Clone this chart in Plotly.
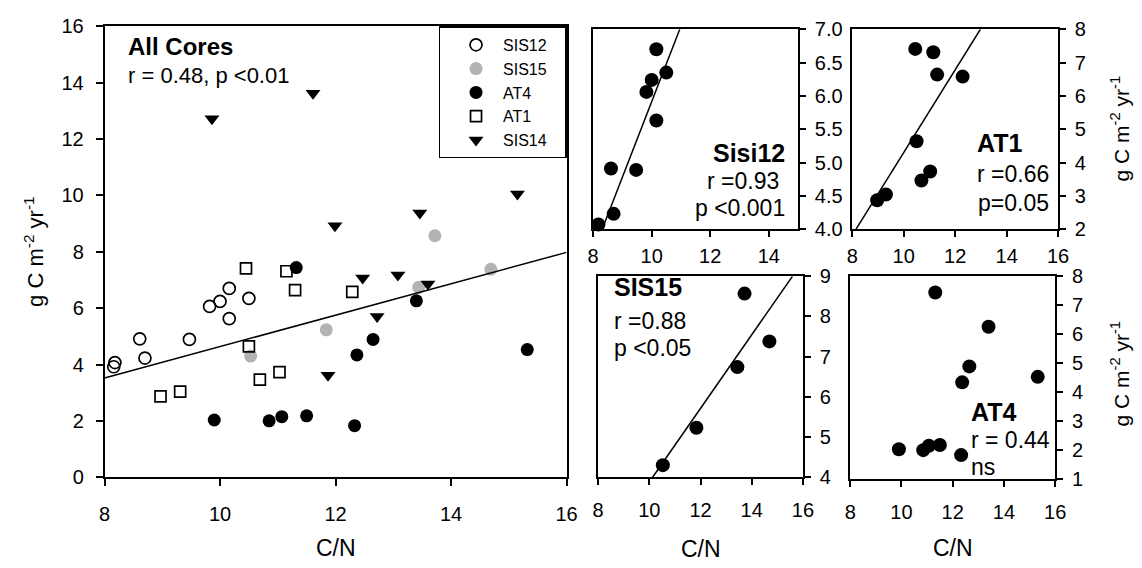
import plotly.graph_objects as go

# ---------------- data ----------------
sis12_cn = [8.16, 8.18, 8.61, 8.70, 9.47, 9.82, 10.00, 10.16, 10.16, 10.50]
sis12_c = [3.92, 4.07, 4.91, 4.23, 4.89, 6.06, 6.24, 6.70, 5.63, 6.35]

sis15_cn = [10.53, 11.84, 13.44, 13.72, 14.69]
sis15_c = [4.30, 5.23, 6.74, 8.57, 7.38]

at4_cn = [9.90, 10.85, 11.07, 11.32, 11.50, 12.33, 12.37, 12.65, 13.40, 15.32]
at4_c = [2.03, 2.00, 2.15, 7.44, 2.18, 1.83, 4.34, 4.89, 6.26, 4.53]

at1_cn = [8.97, 9.31, 10.45, 10.50, 10.69, 11.03, 11.15, 11.30, 12.29]
at1_c = [2.87, 3.04, 7.41, 4.64, 3.46, 3.73, 7.31, 6.64, 6.58]

sis14_cn = [9.86, 11.61, 11.87, 11.99, 12.47, 12.72, 13.08, 13.46, 13.60, 15.15]
sis14_c = [12.72, 13.63, 3.62, 8.92, 7.07, 5.70, 7.18, 9.38, 6.86, 10.05]

# regression lines (end points)
all_fit_cn = [8.0, 16.0]
all_fit_c = [3.52, 7.98]
sis12_fit_cn = [8.31, 10.96]
sis12_fit_c = [4.0, 7.0]
at1_fit_cn = [8.15, 12.98]
at1_fit_c = [2.0, 8.0]
sis15_fit_cn = [10.13, 15.59]
sis15_fit_c = [4.0, 9.0]

# ---------------- layout helpers ----------------
W, H = 1142, 568
FONT = "Liberation Sans, Arial, sans-serif"
BLACK = "#000000"
GRAY = "#b3b3b3"
YTITLE = "g C m<sup>-2</sup> yr<sup>-1</sup>"
PAD = "\u00a0\u00a0\u00a0"


def dom_x(a, b):
    return [a / W, b / W]


def dom_y(top, bottom):
    return [1 - bottom / H, 1 - top / H]


fig = go.Figure()

# ---- main panel traces ----
fig.add_trace(go.Scatter(x=sis12_cn, y=sis12_c, mode="markers", name="SIS12" + PAD,
                         marker=dict(symbol="circle-open", size=12, color=BLACK,
                                     line=dict(width=1.7, color=BLACK)),
                         xaxis="x", yaxis="y"))
fig.add_trace(go.Scatter(x=sis15_cn, y=sis15_c, mode="markers", name="SIS15" + PAD,
                         marker=dict(symbol="circle", size=13, color=GRAY),
                         xaxis="x", yaxis="y"))
fig.add_trace(go.Scatter(x=at4_cn, y=at4_c, mode="markers", name="AT4" + PAD,
                         marker=dict(symbol="circle", size=13, color=BLACK),
                         xaxis="x", yaxis="y"))
fig.add_trace(go.Scatter(x=at1_cn, y=at1_c, mode="markers", name="AT1" + PAD,
                         marker=dict(symbol="square-open", size=11, color=BLACK,
                                     line=dict(width=1.7, color=BLACK)),
                         xaxis="x", yaxis="y"))
fig.add_trace(go.Scatter(x=sis14_cn, y=sis14_c, mode="markers", name="SIS14" + PAD,
                         marker=dict(symbol="triangle-down", size=13, color=BLACK),
                         xaxis="x", yaxis="y"))
fig.add_trace(go.Scatter(x=all_fit_cn, y=all_fit_c, mode="lines", showlegend=False,
                         line=dict(color=BLACK, width=1.5), xaxis="x", yaxis="y"))

# ---- sub panels ----
sub = [
    ("x2", "y2", sis12_cn, sis12_c, sis12_fit_cn, sis12_fit_c),
    ("x3", "y3", at1_cn, at1_c, at1_fit_cn, at1_fit_c),
    ("x4", "y4", sis15_cn, sis15_c, sis15_fit_cn, sis15_fit_c),
    ("x5", "y5", at4_cn, at4_c, None, None),
]
for xa, ya, xs, ys, fx, fy in sub:
    if fx is not None:
        fig.add_trace(go.Scatter(x=fx, y=fy, mode="lines", showlegend=False,
                                 line=dict(color=BLACK, width=1.5), xaxis=xa, yaxis=ya))
    fig.add_trace(go.Scatter(x=xs, y=ys, mode="markers", showlegend=False, cliponaxis=False,
                             marker=dict(symbol="circle", size=14, color=BLACK),
                             xaxis=xa, yaxis=ya))

axis_common = dict(showline=True, linecolor=BLACK, linewidth=1.5, mirror=True,
                   ticks="outside", ticklen=7, tickwidth=1.5, tickcolor=BLACK,
                   showgrid=False, zeroline=False, fixedrange=True,
                   tickfont=dict(family=FONT, size=20, color=BLACK))

layout = dict(
    width=W, height=H, margin=dict(l=0, r=0, t=0, b=0),
    paper_bgcolor="white", plot_bgcolor="white",
    font=dict(family=FONT, color=BLACK),
    xaxis=dict(axis_common, domain=dom_x(100, 569), range=[8, 16], tickvals=[8, 10, 12, 14, 16],
               anchor="y", ticklabelstandoff=11),
    yaxis=dict(axis_common, domain=dom_y(16, 485), range=[0, 16], tickvals=list(range(0, 17, 2)),
               anchor="x", ticklabelstandoff=8),
    xaxis2=dict(axis_common, domain=dom_x(596, 804), range=[8, 15], tickvals=[8, 10, 12, 14],
                anchor="y2", ticklen=6, ticklabelstandoff=2),
    yaxis2=dict(axis_common, domain=dom_y(19, 227), range=[4, 7],
                tickvals=[4.0, 4.5, 5.0, 5.5, 6.0, 6.5, 7.0],
                ticktext=["4.0", "4.5", "5.0", "5.5", "6.0", "6.5", "7.0"],
                side="right", anchor="x2", ticklen=6, ticklabelstandoff=5),
    xaxis3=dict(axis_common, domain=dom_x(859, 1068), range=[8, 16], tickvals=[8, 10, 12, 14, 16],
                anchor="y3", ticklen=6, ticklabelstandoff=2),
    yaxis3=dict(axis_common, domain=dom_y(19, 227), range=[2, 8], tickvals=list(range(2, 9)),
                side="right", anchor="x3", ticklen=6, ticklabelstandoff=5),
    xaxis4=dict(axis_common, domain=dom_x(601, 809), range=[8, 16], tickvals=[8, 10, 12, 14, 16],
                anchor="y4", ticklen=6, ticklabelstandoff=8),
    yaxis4=dict(axis_common, domain=dom_y(276, 485), range=[4, 9], tickvals=list(range(4, 10)),
                side="right", anchor="x4", ticklen=6, ticklabelstandoff=5),
    xaxis5=dict(axis_common, domain=dom_x(857, 1065), range=[8, 16], tickvals=[8, 10, 12, 14, 16],
                anchor="y5", ticklen=6, ticklabelstandoff=8),
    yaxis5=dict(axis_common, domain=dom_y(276, 487), range=[1, 8], tickvals=list(range(1, 9)),
                side="right", anchor="x5", ticklen=6, ticklabelstandoff=5),
    showlegend=True,
    legend=dict(x=569 / W, xanchor="right", y=1 - 16 / H, yanchor="top",
                bgcolor="white", bordercolor=BLACK, borderwidth=1.5,
                font=dict(family=FONT, size=16, color=BLACK),
                tracegroupgap=0, indentation=9, itemwidth=44),
)
fig.update_layout(**layout)


def ann(text, x, y, xref, yref, size, bold=False, xanchor="left", yanchor="middle", angle=0):
    if bold:
        text = "<b>" + text + "</b>"
    fig.add_annotation(text=text, x=x, y=y, xref=xref, yref=yref, showarrow=False,
                       xanchor=xanchor, yanchor=yanchor, textangle=angle,
                       font=dict(family=FONT, size=size, color=BLACK))


# main panel texts
ann("All Cores", 0.047, 0.955, "x domain", "y domain", 24, bold=True)
ann("r = 0.48, p <0.01", 0.047, 0.892, "x domain", "y domain", 22)
# Sisi12
ann("Sisi12", 0.945, 0.38, "x2 domain", "y2 domain", 25, bold=True, xanchor="right")
ann("r =0.93", 0.915, 0.24, "x2 domain", "y2 domain", 23, xanchor="right")
ann("p <0.001", 0.945, 0.105, "x2 domain", "y2 domain", 23, xanchor="right")
# AT1
ann("AT1", 0.598, 0.43, "x3 domain", "y3 domain", 25, bold=True)
ann("r =0.66", 0.598, 0.275, "x3 domain", "y3 domain", 23)
ann("p=0.05", 0.6, 0.13, "x3 domain", "y3 domain", 23)
# SIS15
ann("SIS15", 0.066, 0.945, "x4 domain", "y4 domain", 25, bold=True)
ann("r =0.88", 0.066, 0.78, "x4 domain", "y4 domain", 23)
ann("p <0.05", 0.066, 0.645, "x4 domain", "y4 domain", 23)
# AT4
ann("AT4", 0.579, 0.33, "x5 domain", "y5 domain", 25, bold=True)
ann("r = 0.44", 0.579, 0.195, "x5 domain", "y5 domain", 23)
ann("ns", 0.579, 0.06, "x5 domain", "y5 domain", 23)

# axis titles
ann("C/N", 335 / W, 1 - 559 / H, "paper", "paper", 23, xanchor="center")
ann("C/N", 705 / W, 1 - 560 / H, "paper", "paper", 23, xanchor="center")
ann("C/N", 961 / W, 1 - 559 / H, "paper", "paper", 23, xanchor="center")
ann(YTITLE, 29 / W, 1 - 250 / H, "paper", "paper", 22, xanchor="center", angle=-90)
ann(YTITLE, 1131 / W, 1 - 123 / H, "paper", "paper", 21, xanchor="center", angle=-90)
ann(YTITLE, 1131 / W, 1 - 378 / H, "paper", "paper", 21, xanchor="center", angle=-90)

fig.write_html("out.html", config={"displayModeBar": False})
